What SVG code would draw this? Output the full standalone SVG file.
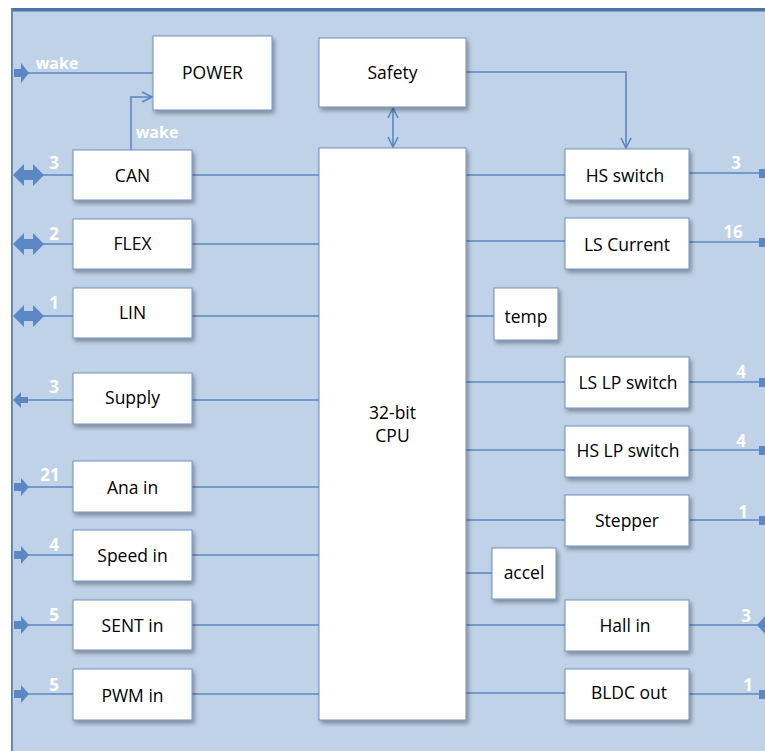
<svg xmlns="http://www.w3.org/2000/svg" width="765" height="751" viewBox="0 0 765 751">
<defs>
<style>
.box{fill:#fff;stroke:#6F8FBF;stroke-width:1;filter:url(#sh)}
.lbl{font-family:"Open Sans","Liberation Sans",sans-serif;font-size:17.5px;fill:#000;text-anchor:middle;dominant-baseline:central}
.num{font-family:"Open Sans","Liberation Sans",sans-serif;font-size:17px;font-weight:bold;fill:#fff;text-anchor:middle}
.wk{font-size:16px}
.ln{stroke:#5B87C2;stroke-width:1.6;fill:none}
.ba{fill:#5B87C2}
</style>
<filter id="sh" x="-10%" y="-10%" width="130%" height="130%">
<feDropShadow dx="2" dy="3" stdDeviation="2" flood-color="#000" flood-opacity="0.35"/>
</filter>
<marker id="open" viewBox="0 0 12 12" refX="11" refY="6" markerWidth="12" markerHeight="12" markerUnits="userSpaceOnUse" orient="auto-start-reverse">
<path d="M1,1 L11,6 L1,11" fill="none" stroke="#5B87C2" stroke-width="1.6"/>
</marker>
</defs>
<rect x="0" y="0" width="765" height="751" fill="#fff"/>
<rect x="11" y="10" width="754" height="741" fill="#C0D2E7"/>
<rect x="11" y="8" width="754" height="3.5" fill="#4C73A6"/>
<rect x="11" y="8" width="1.8" height="743" fill="#5B80B5"/>

<g id="connectors">
<line class="ln" x1="20" y1="73" x2="153" y2="73"/>
<polyline class="ln" points="131,150 131,97 152,97" marker-end="url(#open)"/>
<polyline class="ln" points="466,72 626,72 626,148" marker-end="url(#open)"/>
<line class="ln" x1="393" y1="108" x2="393" y2="147" marker-start="url(#open)" marker-end="url(#open)"/>
<line class="ln" x1="20" y1="175" x2="73" y2="175"/>
<line class="ln" x1="20" y1="244" x2="73" y2="244"/>
<line class="ln" x1="20" y1="316" x2="73" y2="316"/>
<line class="ln" x1="20" y1="400" x2="73" y2="400"/>
<line class="ln" x1="20" y1="487" x2="73" y2="487"/>
<line class="ln" x1="20" y1="555" x2="73" y2="555"/>
<line class="ln" x1="20" y1="625" x2="73" y2="625"/>
<line class="ln" x1="20" y1="694" x2="73" y2="694"/>
<line class="ln" x1="192" y1="175" x2="319" y2="175"/>
<line class="ln" x1="192" y1="244" x2="319" y2="244"/>
<line class="ln" x1="192" y1="316" x2="319" y2="316"/>
<line class="ln" x1="192" y1="400" x2="319" y2="400"/>
<line class="ln" x1="192" y1="487" x2="319" y2="487"/>
<line class="ln" x1="192" y1="555" x2="319" y2="555"/>
<line class="ln" x1="192" y1="625" x2="319" y2="625"/>
<line class="ln" x1="192" y1="694" x2="319" y2="694"/>
<line class="ln" x1="466" y1="175" x2="565" y2="175"/>
<line class="ln" x1="466" y1="241" x2="565" y2="241"/>
<line class="ln" x1="466" y1="316" x2="494" y2="316"/>
<line class="ln" x1="466" y1="382" x2="565" y2="382"/>
<line class="ln" x1="466" y1="450" x2="565" y2="450"/>
<line class="ln" x1="466" y1="520" x2="565" y2="520"/>
<line class="ln" x1="466" y1="573" x2="492" y2="573"/>
<line class="ln" x1="466" y1="625" x2="565" y2="625"/>
<line class="ln" x1="466" y1="693" x2="565" y2="693"/>
<line class="ln" x1="689" y1="173" x2="762" y2="173"/>
<line class="ln" x1="689" y1="242" x2="762" y2="242"/>
<line class="ln" x1="689" y1="382" x2="762" y2="382"/>
<line class="ln" x1="689" y1="450" x2="762" y2="450"/>
<line class="ln" x1="689" y1="520" x2="762" y2="520"/>
<line class="ln" x1="689" y1="625" x2="762" y2="625"/>
<line class="ln" x1="689" y1="694" x2="762" y2="694"/>
<polygon class="ba" points="14,69 21,69 21,63 29,73 21,83 21,77 14,77"/>
<polygon class="ba" points="13,175 24,164 24,170 33,170 33,164 44,175 33,186 33,180 24,180 24,186"/>
<polygon class="ba" points="13,244 24,233 24,239 33,239 33,233 44,244 33,255 33,249 24,249 24,255"/>
<polygon class="ba" points="13,316 24,305 24,311 33,311 33,305 44,316 33,327 33,321 24,321 24,327"/>
<polygon class="ba" points="13,400 21,392 21,397 28,397 28,403 21,403 21,408"/>
<polygon class="ba" points="14,483 21,483 21,478 29,487 21,496 21,491 14,491"/>
<polygon class="ba" points="14,551 21,551 21,546 29,555 21,564 21,559 14,559"/>
<polygon class="ba" points="14,621 21,621 21,616 29,625 21,634 21,629 14,629"/>
<polygon class="ba" points="14,690 21,690 21,685 29,694 21,703 21,698 14,698"/>
<rect class="ba" x="759" y="169" width="6" height="9"/>
<rect class="ba" x="759" y="238" width="6" height="9"/>
<rect class="ba" x="759" y="378" width="6" height="9"/>
<rect class="ba" x="759" y="446" width="6" height="9"/>
<rect class="ba" x="759" y="516" width="6" height="9"/>
<polygon class="ba" points="757,625 765,616 765,634"/>
<rect class="ba" x="759" y="690" width="6" height="9"/>
</g>

<g id="labels">
<text class="num wk" x="57" y="69">wake</text>
<text class="num wk" x="157" y="138">wake</text>
<text class="num" x="54" y="169">3</text>
<text class="num" x="54" y="240">2</text>
<text class="num" x="54" y="309">1</text>
<text class="num" x="54" y="393">3</text>
<text class="num" x="50" y="481">21</text>
<text class="num" x="54" y="551">4</text>
<text class="num" x="54" y="621">5</text>
<text class="num" x="54" y="691">5</text>
<text class="num" x="736" y="169">3</text>
<text class="num" x="733" y="238">16</text>
<text class="num" x="741" y="378">4</text>
<text class="num" x="741" y="447">4</text>
<text class="num" x="743" y="518">1</text>
<text class="num" x="746" y="622">3</text>
<text class="num" x="748" y="691">1</text>
</g>

<g id="power"><rect class="box" x="153" y="36" width="119" height="74"/><text class="lbl" x="212.5" y="72">POWER</text></g>
<g id="safety"><rect class="box" x="319" y="38" width="147" height="69"/><text class="lbl" x="392.5" y="72">Safety</text></g>
<g id="cpu"><rect class="box" x="319" y="148" width="147" height="572"/><text class="lbl" x="392.5" y="412">32-bit</text><text class="lbl" x="392.5" y="435">CPU</text></g>
<g id="can"><rect class="box" x="73" y="150" width="119" height="50"/><text class="lbl" x="132.5" y="175">CAN</text></g>
<g id="flex"><rect class="box" x="73" y="219" width="119" height="50"/><text class="lbl" x="132.5" y="243">FLEX</text></g>
<g id="lin"><rect class="box" x="73" y="288" width="119" height="50"/><text class="lbl" x="132.5" y="312">LIN</text></g>
<g id="supply"><rect class="box" x="73" y="373" width="119" height="51"/><text class="lbl" x="132.5" y="397">Supply</text></g>
<g id="anain"><rect class="box" x="73" y="461" width="119" height="51"/><text class="lbl" x="132.5" y="487">Ana in</text></g>
<g id="speedin"><rect class="box" x="73" y="530" width="119" height="51"/><text class="lbl" x="132.5" y="555">Speed in</text></g>
<g id="sentin"><rect class="box" x="73" y="600" width="119" height="50"/><text class="lbl" x="132.5" y="625">SENT in</text></g>
<g id="pwmin"><rect class="box" x="73" y="669" width="119" height="51"/><text class="lbl" x="132.5" y="695">PWM in</text></g>
<g id="hsswitch"><rect class="box" x="565" y="149" width="124" height="51"/><text class="lbl" x="625" y="175">HS switch</text></g>
<g id="lscurrent"><rect class="box" x="565" y="218" width="124" height="51"/><text class="lbl" x="627" y="244">LS Current</text></g>
<g id="temp"><rect class="box" x="494" y="288" width="64" height="52"/><text class="lbl" x="526" y="316">temp</text></g>
<g id="lslp"><rect class="box" x="565" y="357" width="124" height="51"/><text class="lbl" x="628" y="382">LS LP switch</text></g>
<g id="hslp"><rect class="box" x="565" y="426" width="124" height="51"/><text class="lbl" x="628" y="450">HS LP switch</text></g>
<g id="stepper"><rect class="box" x="565" y="495" width="124" height="51"/><text class="lbl" x="627" y="520">Stepper</text></g>
<g id="accel"><rect class="box" x="492" y="548" width="64" height="51"/><text class="lbl" x="524" y="572">accel</text></g>
<g id="hallin"><rect class="box" x="565" y="600" width="124" height="51"/><text class="lbl" x="625" y="625">Hall in</text></g>
<g id="bldc"><rect class="box" x="565" y="669" width="124" height="51"/><text class="lbl" x="629" y="692">BLDC out</text></g>
</svg>
